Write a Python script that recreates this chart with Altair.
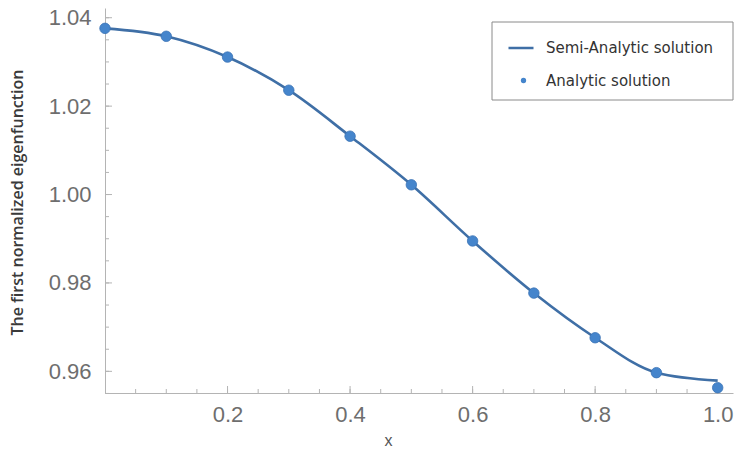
import altair as alt
import pandas as pd
import numpy as np

# Grid points and eigenfunction values
x_vals = [0.0, 0.1, 0.2, 0.3, 0.4, 0.5, 0.6, 0.7, 0.8, 0.9, 1.0]
semi_analytic = [1.0376, 1.0358, 1.0311, 1.0236, 1.0132, 1.0022, 0.9895, 0.9777, 0.9676, 0.9597, 0.9579]
analytic = [1.0376, 1.0358, 1.0311, 1.0236, 1.0132, 1.0022, 0.9895, 0.9777, 0.9676, 0.9597, 0.9563]

# Axis ticks
x_major = [0.2, 0.4, 0.6, 0.8, 1.0]
x_minor = [round(v, 3) for v in np.arange(0.05, 1.0001, 0.05)]
y_major = [0.96, 0.98, 1.00, 1.02, 1.04]
y_minor = [round(v, 3) for v in np.arange(0.955, 1.0401, 0.005)]

line_df = pd.DataFrame({"x": x_vals, "y": semi_analytic, "series": "Semi-Analytic solution"})
pt_df = pd.DataFrame({"x": x_vals, "y": analytic, "series": "Analytic solution"})

W, H = 628, 385
X_DOM = [0.0, 1.025]
Y_DOM = [0.9551, 1.0422]
AXIS_GRAY = "#b4b4b4"
LABEL_GRAY = "#6e6e6e"
LINE_COL = "#3f6fa6"
PT_COL = "#4585cc"

xs = alt.Scale(domain=X_DOM, nice=False, zero=False)
ys = alt.Scale(domain=Y_DOM, nice=False, zero=False)

x_axis = alt.Axis(values=x_major, format=".1f", labelFontSize=22, labelColor=LABEL_GRAY,
                  labelFont="Liberation Sans", ticks=False, labelPadding=11, domainColor=AXIS_GRAY,
                  grid=False, title="x", titleFont="Liberation Sans", titleFontSize=16,
                  titleFontWeight="normal", titleColor="#555555", titleX=283, titleY=47,
                  titleBaseline="middle")
y_axis = alt.Axis(values=y_major, format=".2f", labelFontSize=22, labelColor=LABEL_GRAY,
                  labelFont="Liberation Sans", ticks=False, labelPadding=14, domainColor=AXIS_GRAY,
                  grid=False, title="The first normalized eigenfunction", titleFont="Open Sans",
                  titleFontSize=16, titleFontWeight=600, titleColor="#3a3a3a", titleX=-88,
                  titleY=194, titleBaseline="middle")

line = alt.Chart(line_df).mark_line(strokeWidth=2.6, interpolate="monotone").encode(
    x=alt.X("x:Q", scale=xs, axis=x_axis),
    y=alt.Y("y:Q", scale=ys, axis=y_axis),
    stroke=alt.Stroke("series:N", scale=alt.Scale(domain=["Semi-Analytic solution"], range=[LINE_COL]),
                      legend=alt.Legend(title=None, orient="none", legendX=402, legendY=26,
                                        symbolType="stroke", symbolSize=625, symbolStrokeWidth=2.5,
                                        labelFont="DejaVu Sans", labelFontSize=15, labelColor="#333333",
                                        labelOffset=11, labelLimit=400, padding=0)),
)

points = alt.Chart(pt_df).mark_point(filled=True, size=110, opacity=1, stroke="#3a72b5",
                                     strokeWidth=0.8).encode(
    x=alt.X("x:Q", scale=xs),
    y=alt.Y("y:Q", scale=ys),
    fill=alt.Fill("series:N", scale=alt.Scale(domain=["Analytic solution"], range=[PT_COL]),
                  legend=alt.Legend(title=None, orient="none", legendX=411, legendY=65,
                                    symbolType="circle", symbolSize=28, symbolStrokeWidth=0,
                                    labelFont="DejaVu Sans", labelFontSize=15, labelColor="#333333",
                                    labelOffset=15, labelLimit=400, padding=0)),
)

# Inward tick marks in the Mathematica style
ytick_major = alt.Chart(pd.DataFrame({"y": y_major})).mark_rule(color=AXIS_GRAY, strokeWidth=1).encode(
    y=alt.Y("y:Q", scale=ys), x=alt.value(0), x2=alt.value(7))
ytick_minor = alt.Chart(pd.DataFrame({"y": y_minor})).mark_rule(color=AXIS_GRAY, strokeWidth=1).encode(
    y=alt.Y("y:Q", scale=ys), x=alt.value(0), x2=alt.value(4))
xtick_major = alt.Chart(pd.DataFrame({"x": x_major})).mark_rule(color=AXIS_GRAY, strokeWidth=1).encode(
    x=alt.X("x:Q", scale=xs), y=alt.value(H), y2=alt.value(H - 7))
xtick_minor = alt.Chart(pd.DataFrame({"x": x_minor})).mark_rule(color=AXIS_GRAY, strokeWidth=1).encode(
    x=alt.X("x:Q", scale=xs), y=alt.value(H), y2=alt.value(H - 4))

# Frame around the legend entries
frame = alt.Chart(pd.DataFrame({"k": [0]})).mark_rect(fill="white", stroke="#8a8a8a", strokeWidth=1).encode(
    x=alt.value(387), x2=alt.value(628), y=alt.value(14), y2=alt.value(92))

chart = alt.layer(
    ytick_minor, ytick_major, xtick_minor, xtick_major, line, points, frame
).resolve_scale(stroke="independent", fill="independent").properties(
    width=W, height=H,
    autosize=alt.AutoSizeParams(type="none"),
    padding={"left": 105, "top": 8, "right": 2, "bottom": 58},
).configure_view(stroke=None).configure_legend(zindex=1)

chart.save("out.html", embed_options={"renderer": "svg", "actions": False})
